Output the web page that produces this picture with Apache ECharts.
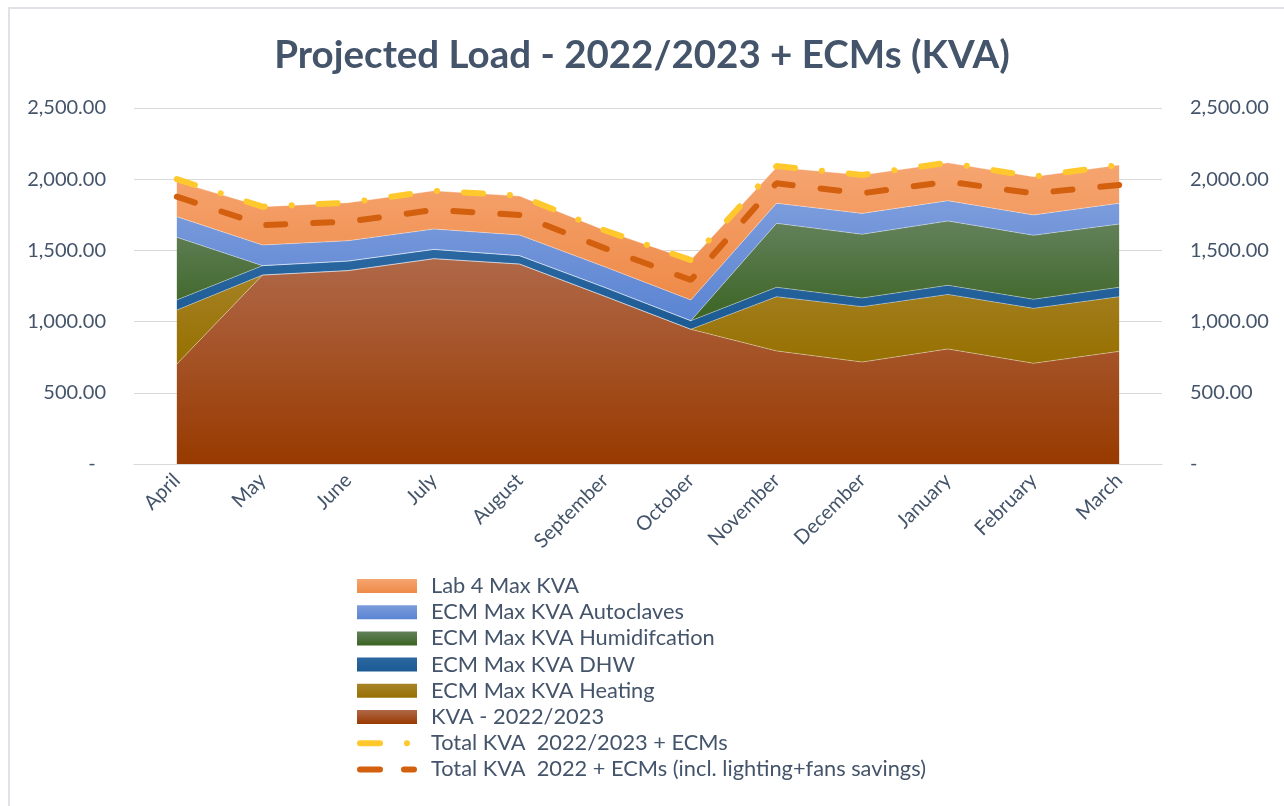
<!DOCTYPE html>
<html lang="en">
<head>
    <meta charset="UTF-8">
    <title>Projected Load</title>
    <style>
        html, body { margin: 0; padding: 0; background: #fff; }
        #main {
            width: 1284px;
            height: 806px;
        }
        #frame {
            position: absolute;
            left: 8px;
            top: 7px;
            width: 1280px;
            height: 806px;
            border-left: 2px solid #DFE3E8;
            border-top: 2px solid #DFE3E8;
            pointer-events: none;
        }
    </style>
</head>
<body>
    <div id="main"></div>
    <div id="frame"></div>
    <script src="https://cdn.jsdelivr.net/npm/echarts@6.0.0/dist/echarts.min.js"></script>
    <script>
        const months = ['April', 'May', 'June', 'July', 'August', 'September', 'October', 'November', 'December', 'January', 'February', 'March'];

        // stacked areas, bottom to top
        const kva2223 = [702, 1327, 1358, 1442, 1404, 1177, 946, 794, 716, 808, 707, 791];
        const ecmHeating = [379, 0, 0, 0, 0, 0, 0, 381, 389, 383, 386, 384];
        const ecmDHW = [71, 66, 67, 65, 59, 62, 60, 66, 61, 64, 64, 66];
        const ecmHumid = [440, 0, 0, 0, 0, 0, 0, 449, 447, 452, 449, 444];
        const ecmAutoclaves = [145, 145, 143, 143, 145, 145, 146, 141, 147, 142, 143, 146];
        const lab4 = [246, 269, 267, 269, 274, 256, 281, 253, 270, 267, 269, 269];

        // total lines
        const totalECMs = [2000, 1807, 1835, 1919, 1885, 1640, 1432, 2092, 2030, 2116, 2018, 2100];
        const totalLighting = [1877, 1678, 1702, 1784, 1749, 1514, 1292, 1971, 1901, 1983, 1901, 1959];

        const yTicks = [0, 500, 1000, 1500, 2000, 2500];

        const txt = '#44546A';
        const font = 'Lato';

        // legend icons for the dashed totals (dash + dot, dash + dash)
        const iconDashDot = 'path://M0,0 M60,14 M3,4 h20 a3,3 0 0 1 0,6 h-20 a3,3 0 0 1 0,-6 z M50,4 a3,3 0 1 1 0,6 a3,3 0 1 1 0,-6 z';
        const iconDash = 'path://M0,0 M60,14 M3,4 h20 a3,3 0 0 1 0,6 h-20 a3,3 0 0 1 0,-6 z M47,4 h10 a3,3 0 0 1 0,6 h-10 a3,3 0 0 1 0,-6 z';

        function grad(top, bottom) {
            return new echarts.graphic.LinearGradient(0, 0, 0, 1, [
                { offset: 0, color: top },
                { offset: 1, color: bottom }
            ]);
        }

        function fmt(v) {
            return v.toLocaleString('en-US', { minimumFractionDigits: 2, maximumFractionDigits: 2 });
        }

        function area(name, data, top, bottom) {
            return {
                name: name,
                type: 'line',
                stack: 'load',
                data: data,
                symbol: 'none',
                itemStyle: { color: grad(top, bottom) },
                lineStyle: { width: 0.8, color: 'rgba(255,255,255,0.45)' },
                areaStyle: { color: grad(top, bottom), opacity: 1 }
            };
        }

        const myChart = echarts.init(document.getElementById('main'));
        const option = {
            backgroundColor: '#fff',
            animation: false,
            title: {
                text: 'Projected Load - 2022/2023 + ECMs (KVA)',
                left: 'center',
                top: 31,
                textStyle: { fontFamily: font, fontWeight: 'bold', fontSize: 38.5, color: txt }
            },
            grid: { left: 134, right: 122, top: 108, bottom: 342 },
            legend: {
                orient: 'vertical',
                left: 352,
                top: 570,
                itemWidth: 60,
                itemHeight: 14,
                itemGap: 4.2,
                textStyle: { fontFamily: font, fontSize: 21.8, color: txt, lineHeight: 22, padding: [0, 0, 0, 9] },
                itemStyle: { borderWidth: 0 },
                data: [
                    { name: 'Lab 4 Max KVA', icon: 'rect' },
                    { name: 'ECM Max KVA Autoclaves', icon: 'rect' },
                    { name: 'ECM Max KVA Humidifcation', icon: 'rect' },
                    { name: 'ECM Max KVA DHW', icon: 'rect' },
                    { name: 'ECM Max KVA Heating', icon: 'rect' },
                    { name: 'KVA - 2022/2023', icon: 'rect' },
                    { name: 'Total KVA  2022/2023 + ECMs', icon: iconDashDot },
                    { name: 'Total KVA  2022 + ECMs (incl. lighting+fans savings)', icon: iconDash }
                ]
            },
            xAxis: {
                type: 'category',
                data: months,
                boundaryGap: true,
                axisLine: { lineStyle: { color: '#D9D9D9' } },
                axisTick: { show: false },
                axisLabel: { rotate: 45, margin: 13, fontFamily: font, fontSize: 20, color: txt, interval: 0 }
            },
            yAxis: [
                {
                    type: 'value', min: yTicks[0], max: yTicks[yTicks.length - 1], interval: 500,
                    axisLine: { show: false }, axisTick: { show: false },
                    splitLine: { lineStyle: { color: '#D9D9D9' } },
                    axisLabel: { margin: 28, fontFamily: font, fontSize: 20, color: txt,
                        formatter: v => v === 0 ? '-  ' : fmt(v) }
                },
                {
                    type: 'value', min: yTicks[0], max: yTicks[yTicks.length - 1], interval: 500,
                    position: 'right',
                    axisLine: { show: false }, axisTick: { show: false },
                    splitLine: { show: false },
                    axisLabel: { margin: 28, fontFamily: font, fontSize: 20, color: txt,
                        formatter: v => v === 0 ? '-' : fmt(v) }
                }
            ],
            series: [
                area('KVA - 2022/2023', kva2223, '#B06848', '#983A00'),
                area('ECM Max KVA Heating', ecmHeating, '#A8842A', '#967000'),
                area('ECM Max KVA DHW', ecmDHW, '#2B68A2', '#1C5A94'),
                area('ECM Max KVA Humidifcation', ecmHumid, '#63815B', '#3B6423'),
                area('ECM Max KVA Autoclaves', ecmAutoclaves, '#7C9CDC', '#5A84D2'),
                area('Lab 4 Max KVA', lab4, '#F6A571', '#EE8A48'),
                {
                    name: 'Total KVA  2022/2023 + ECMs',
                    type: 'line',
                    yAxisIndex: 1,
                    data: totalECMs,
                    symbol: 'none',
                    itemStyle: { color: '#FFC92E' },
                    lineStyle: { width: 6, color: '#FFC92E', type: [19, 27, 0.1, 27], cap: 'round' }
                },
                {
                    name: 'Total KVA  2022 + ECMs (incl. lighting+fans savings)',
                    type: 'line',
                    yAxisIndex: 1,
                    data: totalLighting,
                    symbol: 'none',
                    itemStyle: { color: '#D3600F' },
                    lineStyle: { width: 6, color: '#D3600F', type: [19, 28], cap: 'round' }
                }
            ]
        };
        myChart.setOption(option);
    </script>
</body>
</html>
